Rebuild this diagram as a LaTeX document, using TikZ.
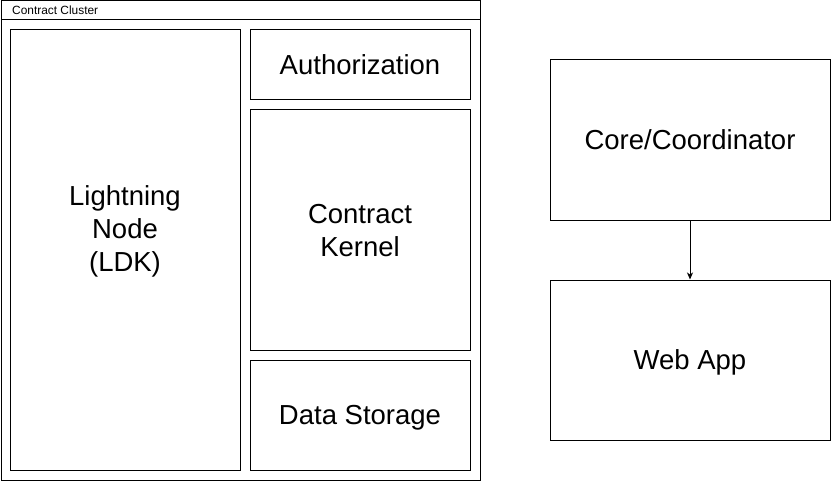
\documentclass[tikz,border=0pt]{standalone}
\usepackage{fontspec}
\setmainfont{Liberation Sans}
\usetikzlibrary{arrows.meta}
\begin{document}
\begin{tikzpicture}[x=1pt,y=-1pt,
  box/.style={draw,line width=1pt,inner sep=0pt},
  txt/.style={inner sep=0pt,align=center,font=\fontsize{27.5}{33}\selectfont,text height=25.6pt,text depth=6pt},
  every node/.style={text=black}]
\useasboundingbox (0,0) rectangle (832,481);
% cluster
\node[draw,line width=1pt,minimum width=479pt,minimum height=479pt,inner sep=0pt] (cluster) at (240.5,240.5) {};
\coordinate (hl) at (1,20);
\coordinate (hr) at (480,20);
\draw[line width=1pt] (hl) -- (hr);
\node[anchor=west,inner sep=0pt,font=\fontsize{11.9}{14}\selectfont] (title) at (12,10.5) {Contract Cluster};
% inner boxes
\node[box,minimum width=230pt,minimum height=440pt] (ln) at (125,250) {};
\node[txt] (lnt) at (125,262) {Lightning\\Node\\(LDK)};
\node[box,minimum width=220pt,minimum height=70pt,label={[txt]center:Authorization}] (auth) at (360,65) {};
\node[box,minimum width=220pt,minimum height=240pt] (ck) at (360,230) {};
\node[txt] (ckt) at (360,246.5) {Contract\\Kernel};
\node[box,minimum width=220pt,minimum height=110pt,label={[txt]center:Data Storage}] (ds) at (360,415) {};
% right
\node[box,minimum width=280pt,minimum height=160pt,label={[txt]center:Core/Coordinator}] (core) at (690,140) {};
\node[box,minimum width=280pt,minimum height=160pt,label={[txt]center:Web App}] (web) at (690,360) {};
\draw[line width=1pt,-{Stealth[length=7pt,width=6pt,inset=2pt]}] (core) -- (web);
\end{tikzpicture}
\end{document}
